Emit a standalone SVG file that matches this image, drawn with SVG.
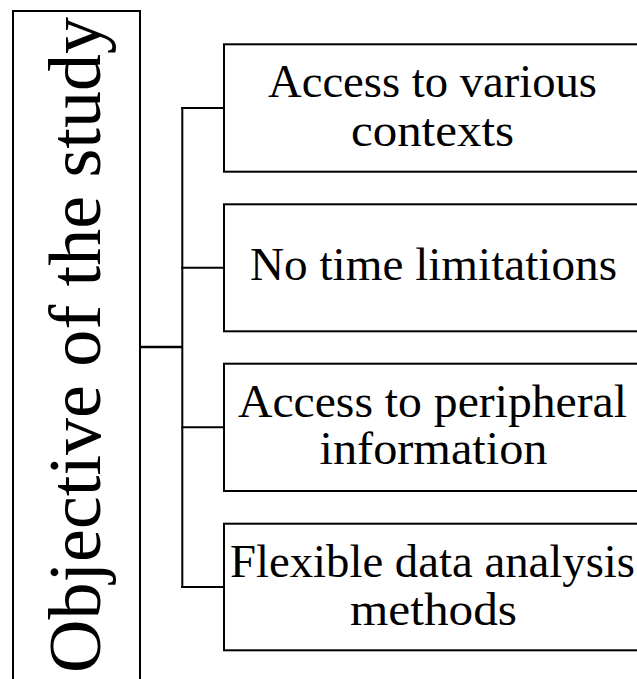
<svg xmlns="http://www.w3.org/2000/svg" width="637" height="679" viewBox="0 0 637 679">
  <style>
    .box { fill: #ffffff; stroke: #000000; stroke-width: 2; }
    .wire { fill: none; stroke: #000000; stroke-width: 2; }
    .label { font-family: "Liberation Serif", "Times New Roman", serif; font-size: 46px; fill: #000000; text-anchor: middle; }
    .title { font-family: "Liberation Serif", "Times New Roman", serif; font-size: 75px; fill: #000000; text-anchor: middle; }
  </style>
  <rect x="0" y="0" width="637" height="679" fill="#ffffff"/>

  <!-- connectors: trunk, stub from the title box and one branch per item -->
  <g id="connectors">
    <line class="wire" x1="140" y1="347" x2="182.3" y2="347" style="stroke-width:2.6"/>
    <line class="wire" x1="182.3" y1="107" x2="182.3" y2="588"/>
    <line class="wire" x1="181.3" y1="108" x2="224" y2="108"/>
    <line class="wire" x1="181.3" y1="267.7" x2="224" y2="267.7"/>
    <line class="wire" x1="181.3" y1="427.3" x2="224" y2="427.3"/>
    <line class="wire" x1="181.3" y1="587" x2="224" y2="587"/>
  </g>

  <!-- title box, running past the bottom edge -->
  <g id="objective">
    <rect class="box" x="13" y="11" width="127" height="690"/>
    <text class="title" transform="translate(100,345) rotate(-90)" textLength="656" lengthAdjust="spacingAndGlyphs">Objective of the study</text>
  </g>

  <g id="various-contexts">
    <rect class="box" x="224" y="44.3" width="421" height="127.4"/>
    <text class="label" x="432.5" y="97.3" textLength="329" lengthAdjust="spacingAndGlyphs">Access to various</text>
    <text class="label" x="432.5" y="146.3" textLength="163" lengthAdjust="spacingAndGlyphs">contexts</text>
  </g>

  <g id="no-time-limits">
    <rect class="box" x="224" y="204.3" width="421" height="127"/>
    <text class="label" x="433.5" y="280" textLength="367" lengthAdjust="spacingAndGlyphs">No time limitations</text>
  </g>

  <g id="peripheral-info">
    <rect class="box" x="224" y="363.7" width="421" height="127.3"/>
    <text class="label" x="432.5" y="417" textLength="389" lengthAdjust="spacingAndGlyphs">Access to peripheral</text>
    <text class="label" x="433.5" y="464" textLength="228" lengthAdjust="spacingAndGlyphs">information</text>
  </g>

  <g id="flexible-analysis">
    <rect class="box" x="224" y="523.7" width="421" height="126.6"/>
    <text class="label" x="432.5" y="577" textLength="405" lengthAdjust="spacingAndGlyphs">Flexible data analysis</text>
    <text class="label" x="433.5" y="625" textLength="167" lengthAdjust="spacingAndGlyphs">methods</text>
  </g>
</svg>
